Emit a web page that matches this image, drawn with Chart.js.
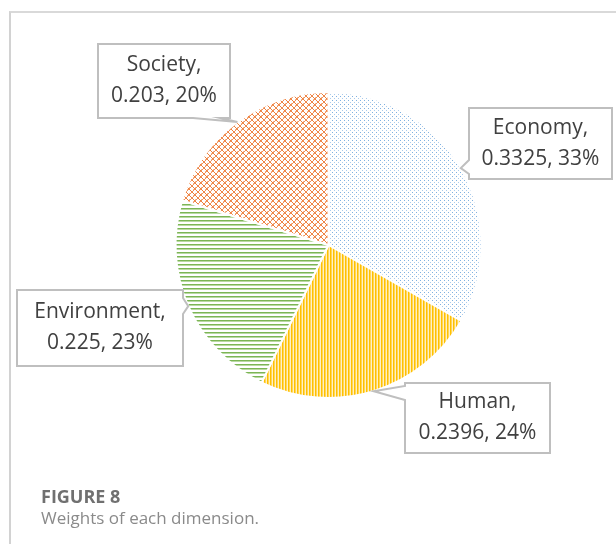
<!DOCTYPE html>
<html>
<head>
<meta charset="utf-8">
<script src="https://cdn.jsdelivr.net/npm/chart.js@4"></script>
<style>
  body { margin: 0; background: #fff; }
  #wrap { position: relative; width: 616px; height: 544px; overflow: hidden; }
  #frame { position: absolute; left: 9px; top: 11px; width: 620px; height: 560px;
    border-left: 2px solid #d2d2d2; border-top: 2px solid #d9d9d9; }
  #chartPie { position: absolute; left: 0; top: 0; }
  .cap { position: absolute; left: 41px; font-family: "Open Sans", sans-serif; white-space: nowrap; }
  #capTitle { top: 484px; font-size: 18px; font-weight: 700; color: #707070; }
  #capText { top: 506px; font-size: 17px; color: #8a8a8a; }
</style>
</head>
<body>
<div id="wrap">
  <div id="frame"></div>
  <canvas id="chartPie" width="616" height="544"></canvas>
  <div class="cap" id="capTitle">FIGURE 8</div>
  <div class="cap" id="capText">Weights of each dimension.</div>
</div>
<script>
const dimensions = ["Economy", "Human", "Environment", "Society"];
const weights = [0.3325, 0.2396, 0.225, 0.203];
// percentages as printed on the labels
const percentLabels = ["33%", "24%", "23%", "20%"];

// callout boxes: x, y, w, h, side of the pointer, pointer base along that side
const callouts = [
  { x: 469, y: 108, w: 143, h: 71, side: "left", s1: 52, s2: 66 },
  { x: 405, y: 383, w: 145, h: 70, side: "left", s1: 3, s2: 17 },
  { x: 17, y: 290, w: 166, h: 76, side: "right", s1: 8, s2: 24 },
  { x: 98, y: 44, w: 132, h: 74, side: "bottom", s1: 95, s2: 122 },
];

function makePattern(size, drawTile) {
  const c = document.createElement("canvas");
  c.width = size[0];
  c.height = size[1];
  const g = c.getContext("2d");
  g.fillStyle = "#fff";
  g.fillRect(0, 0, c.width, c.height);
  drawTile(g);
  return document.getElementById("chartPie").getContext("2d").createPattern(c, "repeat");
}

const dots = makePattern([4, 4], (g) => {
  g.fillStyle = "#7fb0e0";
  g.fillRect(0, 0, 1, 1);
  g.fillStyle = "#a9cbec";
  g.fillRect(2, 2, 1, 1);
});
const vertical = makePattern([3, 1], (g) => {
  g.fillStyle = "#ffc000";
  g.fillRect(0, 0, 1, 1);
  g.fillStyle = "#ffd659";
  g.fillRect(1, 0, 1, 1);
  g.fillStyle = "#fff0c4";
  g.fillRect(2, 0, 1, 1);
});
const horizontal = makePattern([1, 4], (g) => {
  g.fillStyle = "#7cb555";
  g.fillRect(0, 0, 1, 1);
  g.fillStyle = "#b9d9a2";
  g.fillRect(0, 1, 1, 1);
});
const weave = makePattern([6, 6], (g) => {
  for (let i = 0; i < 6; i++) {
    g.fillStyle = "#ee7f3a";
    g.fillRect(i, i, 1, 1);
    g.fillStyle = "#f09058";
    g.fillRect(5 - i, i, 1, 1);
  }
  g.fillStyle = "#f6b48a";
  g.fillRect(3, 1, 1, 1);
  g.fillRect(1, 3, 1, 1);
});

function calloutPath(ctx, b, tip) {
  const { x, y, w, h, side, s1, s2 } = b;
  ctx.beginPath();
  ctx.moveTo(x, y);
  if (side == "top") {
    ctx.lineTo(x + s1, y);
    ctx.lineTo(tip.x, tip.y);
    ctx.lineTo(x + s2, y);
  }
  ctx.lineTo(x + w, y);
  if (side == "right") {
    ctx.lineTo(x + w, y + s1);
    ctx.lineTo(tip.x, tip.y);
    ctx.lineTo(x + w, y + s2);
  }
  ctx.lineTo(x + w, y + h);
  if (side == "bottom") {
    ctx.lineTo(x + s2, y + h);
    ctx.lineTo(tip.x, tip.y);
    ctx.lineTo(x + s1, y + h);
  }
  ctx.lineTo(x, y + h);
  if (side == "left") {
    ctx.lineTo(x, y + s2);
    ctx.lineTo(tip.x, tip.y);
    ctx.lineTo(x, y + s1);
  }
  ctx.closePath();
}

const calloutPlugin = {
  id: "calloutLabels",
  afterDraw: (chart) => {
    const { ctx } = chart;
    const meta = chart.getDatasetMeta(0);
    const data = chart.data.datasets[0].data;
    ctx.save();
    meta.data.forEach((arc, i) => {
      const p = arc.getProps(["x", "y", "startAngle", "endAngle", "outerRadius"], true);
      const mid = (p.startAngle + p.endAngle) / 2;
      const tip = {
        x: p.x + Math.cos(mid) * p.outerRadius,
        y: p.y + Math.sin(mid) * p.outerRadius,
      };
      const b = callouts[i];
      calloutPath(ctx, b, tip);
      ctx.fillStyle = "#fff";
      ctx.fill();
      ctx.strokeStyle = "#bfbfbf";
      ctx.lineWidth = 2;
      ctx.stroke();
      const cx = b.x + b.w / 2;
      const cy = b.y + b.h / 2;
      ctx.fillStyle = "#404040";
      ctx.font = "21px 'Open Sans'";
      ctx.textAlign = "center";
      ctx.textBaseline = "middle";
      ctx.fillText(chart.data.labels[i] + ",", cx, cy - 15.5);
      ctx.fillText(data[i] + ", " + percentLabels[i], cx, cy + 15.5);
    });
    ctx.restore();
  },
};

new Chart(document.getElementById("chartPie"), {
  type: "pie",
  data: {
    labels: dimensions,
    datasets: [
      {
        data: weights,
        backgroundColor: [dots, vertical, horizontal, weave],
        borderColor: "#ffffff",
        borderWidth: 2,
      },
    ],
  },
  options: {
    responsive: false,
    animation: false,
    devicePixelRatio: 1,
    layout: { padding: { left: 174, right: 133, top: 91, bottom: 145 } },
    plugins: {
      legend: { display: false },
      tooltip: { enabled: false },
    },
  },
  plugins: [calloutPlugin],
});
</script>
</body>
</html>
